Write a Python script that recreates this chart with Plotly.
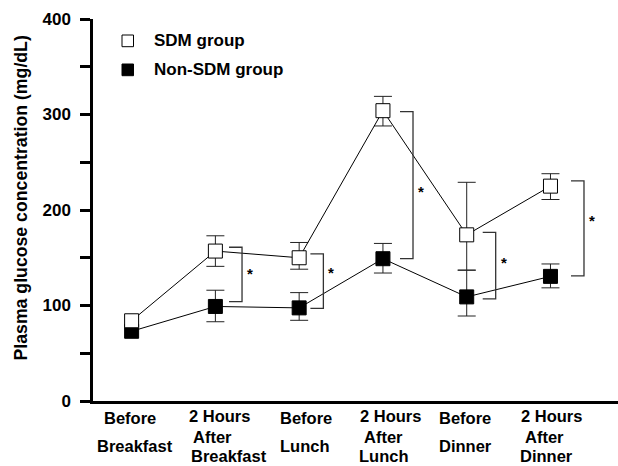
import plotly.graph_objects as go

# ---------------- data ----------------
time_points = [
    ["Before", "Breakfast"],
    ["2 Hours", "After", "Breakfast"],
    ["Before", "Lunch"],
    ["2 Hours", "After", "Lunch"],
    ["Before", "Dinner"],
    ["2 Hours", "After", "Dinner"],
]
sdm_mean = [84, 157, 150, 304, 174, 225]
sdm_err_plus = [None, 16, 16, 15, 55, 13]
sdm_err_minus = [None, 16, 12, 16, 37, 14]
non_mean = [73, 99, 97.5, 149, 109, 130.5]
non_err_plus = [None, 17, 16, 16, 28, 13]
non_err_minus = [None, 16, 13, 15, 20, 12]

sig_index = [1, 2, 3, 4, 5]
sig_top = [161, 154, 303, 176.5, 230.6]
sig_bottom = [104, 97, 149, 107, 131]
sig_star_y = [137.5, 138.6, 223.6, 149, 193]
sig_text = ["*", "*", "*", "*", "*"]

y_tickvals = [0, 50, 100, 150, 200, 250, 300, 350, 400]
y_ticktext = ["0", "", "100", "", "200", "", "300", "", "400"]

series_names = ["SDM group", "Non-SDM group"]
y_title = "Plasma glucose concentration (mg/dL)"

# ---------------- layout constants ----------------
W_PX, H_PX = 618, 466
L, T, R, B = 93, 19, 0, 65
PW = W_PX - L - R
PH = H_PX - T - B
FONT = "Liberation Sans, Arial, Helvetica, sans-serif"
x_idx = list(range(len(time_points)))


def px_x(px):
    return (px - L) / PW


def px_y(py):
    return (H_PX - B - py) / PH


fig = go.Figure()


def add_series(mean, ep, em, fill, name):
    ex = [x for x, e in zip(x_idx, ep) if e is not None]
    ey = [m for m, e in zip(mean, ep) if e is not None]
    eplus = [e for e in ep if e is not None]
    eminus = [e for e in em if e is not None]
    fig.add_trace(go.Scatter(
        x=ex, y=ey, mode="markers", marker=dict(size=1, opacity=0),
        error_y=dict(type="data", array=eplus, arrayminus=eminus, symmetric=False,
                     color="#222222", thickness=1, width=9),
        showlegend=False, hoverinfo="skip"))
    fig.add_trace(go.Scatter(
        x=x_idx, y=mean, mode="lines+markers", name=name,
        line=dict(color="black", width=1),
        marker=dict(symbol="square", size=14, color=fill,
                    line=dict(color="black", width=1)),
        showlegend=False))


add_series(non_mean, non_err_plus, non_err_minus, "black", series_names[1])
add_series(sdm_mean, sdm_err_plus, sdm_err_minus, "white", series_names[0])

# significance brackets
bracket_right = [0.318, 0.289, 0.359, 0.346, 0.40]
bracket_arm = 0.155
shapes = []
annotations = []
for i, k in enumerate(sig_index):
    xr = k + bracket_right[i]
    xl = xr - bracket_arm
    shapes.append(dict(
        type="path", xref="x", yref="y",
        path=f"M {xl},{sig_top[i]} L {xr},{sig_top[i]} L {xr},{sig_bottom[i]} L {xl},{sig_bottom[i]}",
        line=dict(color="#333333", width=1.3)))
    annotations.append(dict(
        x=xr, y=sig_star_y[i], xref="x", yref="y", text=sig_text[i],
        showarrow=False, xshift=8, yshift=-4,
        font=dict(family=FONT, size=15, color="black", weight="bold")))

# x category labels
x_label_shift = [[-1.6, 3.4], [4.3, -2.9, 13.6], [6.4, 6.2],
                 [7.1, 0.1, 0.6], [-1.4, -0.9], [1.2, -5.5, -3.8]]
line_y_2 = [417.5, 446]
line_y_3 = [416, 436.5, 455.5]
for k, lines in enumerate(time_points):
    ys = line_y_2 if len(lines) == 2 else line_y_3
    for j, txt in enumerate(lines):
        annotations.append(dict(
            x=k, y=px_y(ys[j]), xref="x", yref="paper", text=txt,
            showarrow=False, xanchor="center", yanchor="middle",
            xshift=x_label_shift[k][j],
            font=dict(family=FONT, size=16.5, color="black", weight="bold")))

# y title
annotations.append(dict(
    x=px_x(20), y=px_y(198.5), xref="paper", yref="paper", text=y_title,
    textangle=-90, showarrow=False, xanchor="center", yanchor="middle",
    font=dict(family=FONT, size=17.7, color="black", weight="bold")))

# legend (manual)
legend_rows = [(35, 46.7, "white"), (64, 75.7, "black")]
for (y0, y1, fill), name in zip(legend_rows, series_names):
    shapes.append(dict(
        type="rect", xref="paper", yref="paper",
        x0=px_x(122), x1=px_x(133.5), y0=px_y(y1), y1=px_y(y0),
        fillcolor=fill, line=dict(color="black", width=1)))
    annotations.append(dict(
        x=px_x(152), y=px_y((y0 + y1) / 2), xref="paper", yref="paper",
        text=name, showarrow=False, xanchor="left", yanchor="middle",
        font=dict(family=FONT, size=17, color="black", weight="bold")))

fig.update_layout(
    width=W_PX, height=H_PX,
    margin=dict(l=L, r=R, t=T, b=B),
    paper_bgcolor="white", plot_bgcolor="white",
    shapes=shapes, annotations=annotations,
    showlegend=False,
    xaxis=dict(range=[-0.461, 5.806], showgrid=False, zeroline=False,
               showline=True, linecolor="black", linewidth=2.5,
               showticklabels=False, ticks=""),
    yaxis=dict(range=[0, 400], showgrid=False, zeroline=False,
               showline=True, linecolor="black", linewidth=2.5,
               tickvals=y_tickvals, ticktext=y_ticktext,
               ticks="outside", ticklen=10, tickwidth=2.5, tickcolor="black",
               ticklabelstandoff=6,
               tickfont=dict(family=FONT, size=17, color="black", weight="bold")),
)

fig.write_html("out.html", config={"displayModeBar": False},
               post_script="document.body.style.margin='0';document.body.style.overflow='hidden';")
